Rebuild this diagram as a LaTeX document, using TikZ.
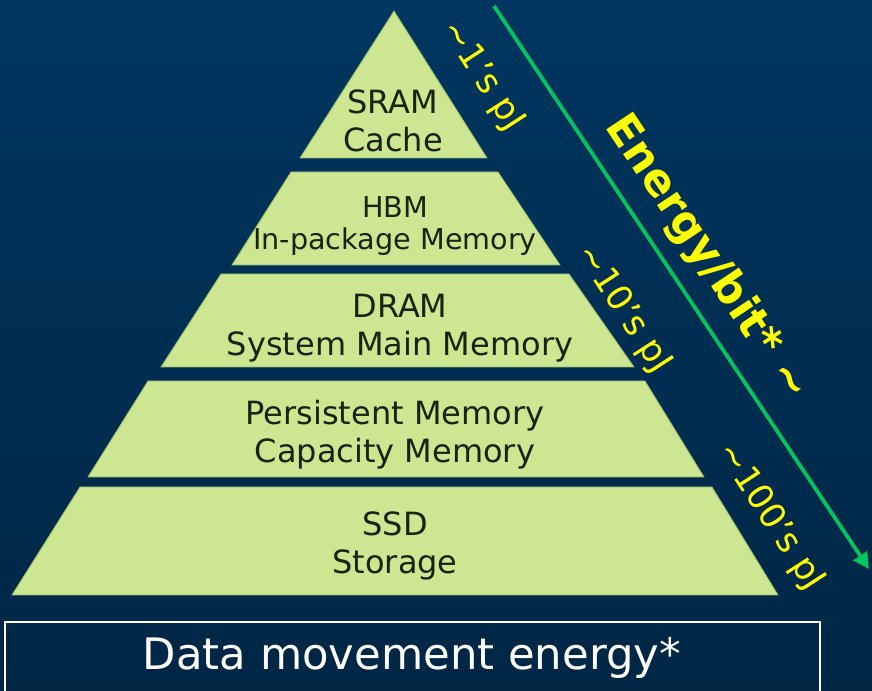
\documentclass[tikz,border=0pt]{standalone}
\usepackage{fontspec}
\setmainfont{DejaVu Sans}
\usetikzlibrary{arrows.meta}
\definecolor{bgtop}{RGB}{0,54,96}
\definecolor{bgbot}{RGB}{0,38,68}
\definecolor{tierfill}{RGB}{205,230,145}
\definecolor{tieredge}{RGB}{150,185,105}
\definecolor{tiertext}{RGB}{24,36,14}
\definecolor{energy}{RGB}{255,255,0}
\definecolor{arrowgreen}{RGB}{0,196,96}
\tikzset{
  tier/.style={fill=tierfill, draw=tieredge, line width=0.6pt, line join=miter},
  tierlabel/.style={text=tiertext, font=\fontsize{24}{28.5}\selectfont, align=center, inner sep=0pt},
  pjlabel/.style={text=energy, font=\fontsize{26}{30}\selectfont, rotate=-57, inner sep=0pt},
  caption/.style={text=white, font=\fontsize{32.5}{36}\selectfont, inner sep=0pt}
}
\begin{document}
\begin{tikzpicture}[x=0.75pt,y=-0.75pt]
  % background
  \shade[top color=bgtop, bottom color=bgbot] (0,0) rectangle (872,691);
  \useasboundingbox (0,0) rectangle (872,691);

  % pyramid tiers
  \draw[tier] (394,11) -- (487,158) -- (300,158) -- cycle;
  \draw[tier] (291,172) -- (498,172) -- (560,265) -- (232,265) -- cycle;
  \draw[tier] (221,274) -- (569,274) -- (634,367) -- (161,367) -- cycle;
  \draw[tier] (148,381) -- (645,381) -- (704,477) -- (88,477) -- cycle;
  \draw[tier] (80,487) -- (712,487) -- (778,595) -- (12,595) -- cycle;

  \node[tierlabel] (sram) at (393,121) {SRAM\\Cache};
  \node[tierlabel, font=\fontsize{21.5}{24}\selectfont] (hbm) at (395,226) {HBM\\In-package Memory};
  \node[tierlabel] (dram) at (400,328) {DRAM\\System Main Memory};
  \node[tierlabel] (pmem) at (395,435) {Persistent Memory\\Capacity Memory};
  \node[tierlabel] (ssd) at (395,546) {SSD\\Storage};

  % energy scale
  \coordinate (arrtop) at (494,6);
  \coordinate (arrbot) at (869,569);
  \draw[arrowgreen, line width=2.8pt, -{Triangle[length=12pt,width=12pt]}] (arrtop) -- (arrbot);
  \node[text=energy, font=\bfseries\fontsize{33}{36}\selectfont, rotate=-56.3, inner sep=0pt]
    (ebit) at (707,258) {Energy/bit*\ \textasciitilde};

  \node[pjlabel] (pj1) at (482,76) {\textasciitilde1’s pJ};
  \node[pjlabel] (pj10) at (623,309) {\textasciitilde10’s pJ};
  \node[pjlabel] (pj100) at (770,517) {\textasciitilde100’s pJ};

  % caption box
  \draw[white, line width=1.5pt] (5,700) -- (5,622) -- (820,622) -- (820,700);
  \node[caption] (cap) at (412,658) {Data movement energy*};
\end{tikzpicture}
\end{document}
